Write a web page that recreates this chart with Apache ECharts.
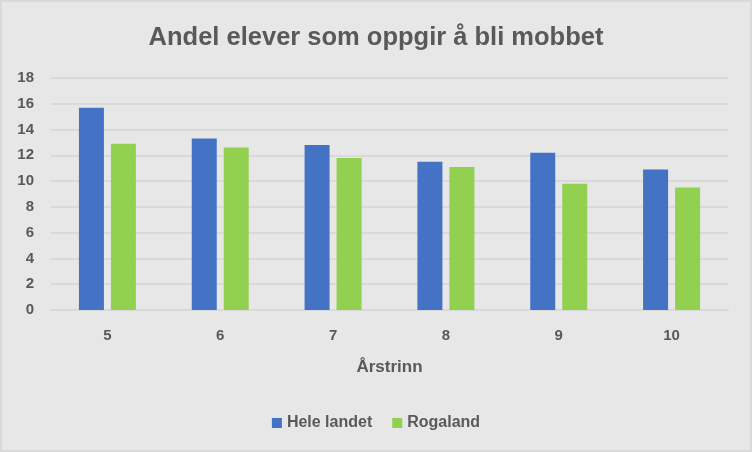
<!DOCTYPE html>
<html>
<head>
<meta charset="utf-8">
<script src="https://cdn.jsdelivr.net/npm/echarts@6/dist/echarts.min.js"></script>
<style>
html,body{margin:0;padding:0;background:#E7E7E7;}
#wrap{width:752px;height:452px;box-sizing:border-box;border:2px solid #D9D9D9;background:#E7E7E7;position:relative;}
#chart{position:absolute;left:-2px;top:-2px;width:752px;height:452px;}
</style>
</head>
<body>
<div id="wrap"><div id="chart"></div></div>
<script>
const categories = ['5', '6', '7', '8', '9', '10'];
const heleLandet = [15.7, 13.3, 12.8, 11.5, 12.2, 10.9];
const rogaland = [12.9, 12.6, 11.8, 11.1, 9.8, 9.5];
const yTicks = [0, 2, 4, 6, 8, 10, 12, 14, 16, 18];

const txt = '#595959';
const font = '"Liberation Sans", Arial, sans-serif';
const chart = echarts.init(document.getElementById('chart'), null, {renderer: 'canvas'});
chart.setOption({
  backgroundColor: 'transparent',
  animation: false,
  title: {
    text: 'Andel elever som oppgir å bli mobbet',
    left: 'center',
    top: 20,
    textStyle: {color: txt, fontFamily: font, fontWeight: 'bold', fontSize: 25.5}
  },
  legend: {
    bottom: 16,
    left: 'center',
    itemWidth: 10,
    itemHeight: 10,
    itemGap: 20,
    icon: 'rect',
    textStyle: {color: txt, fontFamily: font, fontWeight: 'bold', fontSize: 16}
  },
  grid: {left: 51, right: 24, top: 78, bottom: 142},
  xAxis: {
    type: 'category',
    data: categories,
    name: 'Årstrinn',
    nameLocation: 'middle',
    nameGap: 49,
    nameTextStyle: {color: txt, fontFamily: font, fontWeight: 'bold', fontSize: 17},
    axisLine: {lineStyle: {color: '#D9D9D9', width: 2}},
    axisTick: {show: false},
    axisLabel: {color: txt, fontFamily: font, fontWeight: 'bold', fontSize: 15, margin: 18}
  },
  yAxis: {
    type: 'value',
    min: yTicks[0],
    max: yTicks[yTicks.length - 1],
    interval: 2,
    axisLine: {show: false},
    axisTick: {show: false},
    splitLine: {lineStyle: {color: '#D9D9D9', width: 2}},
    axisLabel: {color: txt, fontFamily: font, fontWeight: 'bold', fontSize: 15, margin: 17}
  },
  series: [
    {name: 'Hele landet', type: 'bar', data: heleLandet, barWidth: 25, barGap: '28%', itemStyle: {color: '#4472C4'}},
    {name: 'Rogaland', type: 'bar', data: rogaland, barWidth: 25, itemStyle: {color: '#92D050'}}
  ]
});
</script>
</body>
</html>
